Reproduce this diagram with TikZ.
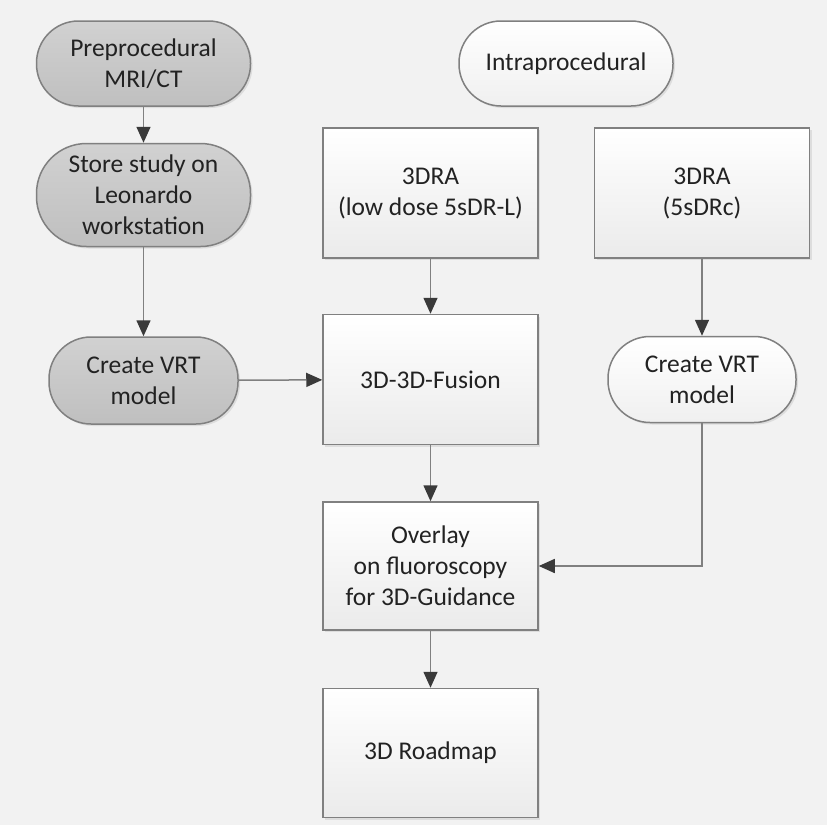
\documentclass[tikz,border=0pt]{standalone}
\usepackage{fontspec}
\setmainfont{Carlito}
\usetikzlibrary{arrows.meta, positioning, shadows}

\definecolor{bgcol}{HTML}{F2F2F2}
\definecolor{edgecol}{HTML}{808080}
\definecolor{tipcol}{HTML}{3A3A3A}
\definecolor{txtcol}{HTML}{222222}

\begin{document}
\begin{tikzpicture}[x=1pt, y=-1pt,
    every node/.style={font=\fontsize{25.5}{31}\selectfont, text=txtcol, align=center, inner sep=0pt,
      draw=edgecol, line width=1.5pt, drop shadow={opacity=0.18, shadow xshift=2pt, shadow yshift=-2pt}},
    pill/.style={rounded corners=42pt, minimum width=214pt, minimum height=85pt, top color=white, bottom color=gray!12},
    greypill/.style={pill, top color=gray!36, bottom color=gray!50},
    stepbox/.style={minimum width=215pt, minimum height=130pt, top color=white, bottom color=gray!16},
    flow/.style={draw=edgecol, line width=1.5pt, -{Triangle[length=16pt, width=14pt, color=tipcol]}}]
        \path[use as bounding box, fill=bgcol] (0,0) rectangle (827,825);
        % preprocedural column
        \node[greypill] (pre) at (143.5,63.5) {Preprocedural\\MRI/CT};
        \node[greypill, rounded corners=50pt, minimum height=103pt, below=36pt of pre] (store) {Store study on\\Leonardo\\workstation};
        \node[greypill, minimum width=189pt, minimum height=87pt, below=89pt of store] (vrtL) {Create VRT\\model};
        % intraprocedural
        \node[pill] (intra) at (566,63.5) {Intraprocedural};
        \node[stepbox] (dra1) at (430.5,193) {3DRA\\(low dose 5sDR-L)};
        \node[stepbox, right=55pt of dra1] (dra2) {3DRA\\(5sDRc)};
        \node[stepbox, below=55pt of dra1] (fusion) {3D-3D-Fusion};
        \node[pill, minimum width=188pt, minimum height=86pt, below=77pt of dra2] (vrtR) {Create VRT\\model};
        \node[stepbox, minimum height=128pt, below=56pt of fusion] (overlay) {Overlay\\on fluoroscopy\\for 3D-Guidance};
        \node[stepbox, minimum height=129pt, below=57pt of overlay] (roadmap) {3D Roadmap};
        \draw[flow] (pre) -- (store);
        \draw[flow] (store) -- (vrtL);
        \draw[flow] (vrtL) -- (fusion);
        \draw[flow] (dra1) -- (fusion);
        \draw[flow] (fusion) -- (overlay);
        \draw[flow] (dra2) -- (vrtR);
        \draw[flow] (vrtR) |- (overlay);
        \draw[flow] (overlay) -- (roadmap);
      \end{tikzpicture}
\end{document}
